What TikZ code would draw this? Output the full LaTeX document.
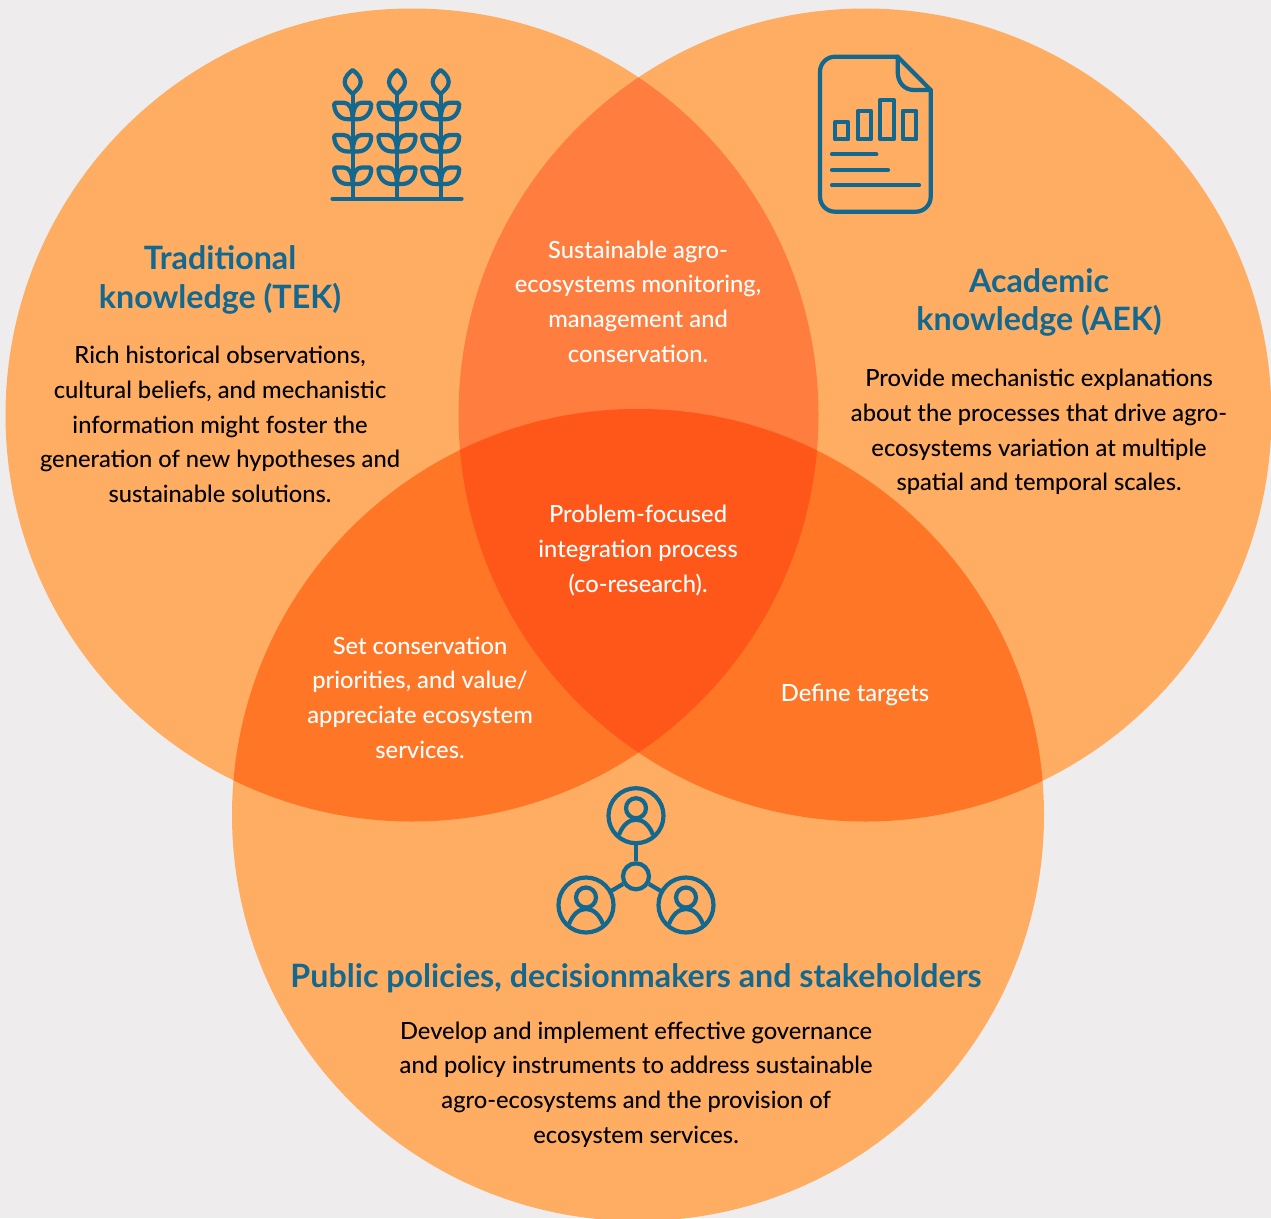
\documentclass[tikz,border=0pt]{standalone}
\usepackage{fontspec}
\setmainfont{Lato}[UprightFont=* Medium,BoldFont=* Bold]
\definecolor{bgc}{HTML}{EEECED}
\definecolor{petal}{HTML}{FFAD62}
\definecolor{pairtop}{HTML}{FF7D3E}
\definecolor{pairlow}{HTML}{FF7726}
\definecolor{core}{HTML}{FF5719}
\definecolor{ink}{HTML}{13688F}
\tikzset{
  x=1pt,y=-1pt,
  bodytxt/.style={align=center,inner sep=0pt,font=\fontsize{23.7}{34.7}\selectfont,text=black},
  whitetxt/.style={bodytxt,text=white},
  headtxt/.style={align=center,inner sep=0pt,font=\fontsize{32.2}{38.5}\selectfont\bfseries,text=ink},
  iconline/.style={draw=ink,line width=4.2pt,line cap=round,line join=round},
  pics/wheat/.style={code={
    \draw[iconline] (0,12) -- (0,116.7);
    \draw[iconline] (0,-12) .. controls (-4,-9) and (-8,-5) .. (-8,0) .. controls (-8,5) and (-4,8) .. (0,12) .. controls (4,8) and (8,5) .. (8,0) .. controls (8,-5) and (4,-9) .. (0,-12) -- cycle;
    \foreach \yy in {20.7,53,85.5}{
      \begin{scope}[shift={(0,\yy)}]
        \draw[iconline] (0,16.5) -- (-5,16.5) .. controls (-14,16.5) and (-18.5,9) .. (-18.5,1.5) .. controls (-18.5,0.5) and (-18,0) .. (-17,0) -- (-9,0) .. controls (-3,0) and (-0.5,6) .. (0,16.5);
        \draw[iconline] (0,16.5) -- (5,16.5) .. controls (14,16.5) and (18.5,9) .. (18.5,1.5) .. controls (18.5,0.5) and (18,0) .. (17,0) -- (9,0) .. controls (3,0) and (0.5,6) .. (0,16.5);
      \end{scope}
    }
  }},
  pics/person/.style={code={
    \draw[iconline] (0,0) circle[radius=27.5];
    \draw[iconline] (0,-7.5) circle[radius=10];
    \draw[iconline,line cap=butt] (-17,19) .. controls (-13,9) and (-7,4) .. (0,4) .. controls (7,4) and (13,9) .. (17,19);
  }}
}
\begin{document}
\begin{tikzpicture}
\useasboundingbox (0,0) rectangle (1271,1218);
\clip (0,0) rectangle (1271,1218);
\fill[bgc] (0,0) rectangle (1271,1218);
\def\cL{(412,415) circle[radius=406.5]}
\def\cR{(865,415) circle[radius=406.5]}
\def\cB{(638,815) circle[radius=406]}
\fill[petal] \cL;
\fill[petal] \cR;
\fill[petal] \cB;
\begin{scope}\clip \cL; \fill[pairtop] \cR; \end{scope}
\begin{scope}\clip \cL; \fill[pairlow] \cB; \end{scope}
\begin{scope}\clip \cR; \fill[pairlow] \cB; \end{scope}
\begin{scope}\clip \cL; \clip \cR; \fill[core] \cB; \end{scope}

% wheat icon
\draw[iconline] (332.5,198.7) -- (461.5,198.7);
\pic at (352.7,82) {wheat};
\pic at (397,82) {wheat};
\pic at (440.7,82) {wheat};

% document icon
\draw[iconline] (897.7,56.7) -- (835,56.7) .. controls (826.7,56.7) and (820,63.4) .. (820,71.7) -- (820,196.7) .. controls (820,205) and (826.7,211.7) .. (835,211.7) -- (915.7,211.7) .. controls (924,211.7) and (930.7,205) .. (930.7,196.7) -- (930.7,90) -- cycle;
\draw[iconline] (897.7,56.7) -- (897.7,72) .. controls (897.7,82) and (904,90) .. (914,90) -- (930.7,90);
\draw[iconline] (835,122.3) rectangle (848.3,139.3);
\draw[iconline] (857.7,111) rectangle (871,139.3);
\draw[iconline] (880.3,99.7) rectangle (893.7,139.3);
\draw[iconline] (903,111) rectangle (916.3,139.3);
\draw[iconline] (832,154.3) -- (876.3,154.3);
\draw[iconline] (832,170) -- (888,170);
\draw[iconline] (832,185.3) -- (919,185.3);

% people icon
\node[circle,draw=ink,line width=4.2pt,minimum size=26pt,inner sep=0pt] (hub) at (636,876.3) {};
\coordinate (pT) at (636,815.7);
\coordinate (pL) at (586,905);
\coordinate (pR) at (686,905);
\pic at (pT) {person};
\pic at (pL) {person};
\pic at (pR) {person};
\draw[iconline,line cap=butt] (hub) -- (636,843.2);
\draw[iconline,line cap=butt] (hub) -- (611.7,890.7);
\draw[iconline,line cap=butt] (hub) -- (660.3,890.7);

% texts
\node[headtxt] (tekh) at (220,280) {Traditional\\knowledge (TEK)};
\node[bodytxt] (tekb) at (220,424.5) {Rich historical observations,\\cultural beliefs, and mechanistic\\information might foster the\\generation of new hypotheses and\\sustainable solutions.};
\node[headtxt] (aekh) at (1039,302.5) {Academic\\knowledge (AEK)};
\node[bodytxt] (aekb) at (1039,432) {Provide mechanistic explanations\\about the processes that drive agro-\\ecosystems variation at multiple\\spatial and temporal scales.};
\node[whitetxt] (top) at (638,301.5) {Sustainable agro-\\ecosystems monitoring,\\management and\\conservation.};
\node[whitetxt] (mid) at (638,550.5) {Problem-focused\\integration process\\(co-research).};
\node[whitetxt] (lft) at (420,697.5) {Set conservation\\priorities, and value/\\appreciate ecosystem\\services.};
\node[whitetxt] (rgt) at (855,695) {Define targets};
\node[headtxt] (pubh) at (636,978) {Public policies, decisionmakers and stakeholders};
\node[bodytxt] (pubb) at (636,1084.5) {Develop and implement effective governance\\and policy instruments to address sustainable\\agro-ecosystems and the provision of\\ecosystem services.};
\end{tikzpicture}
\end{document}
